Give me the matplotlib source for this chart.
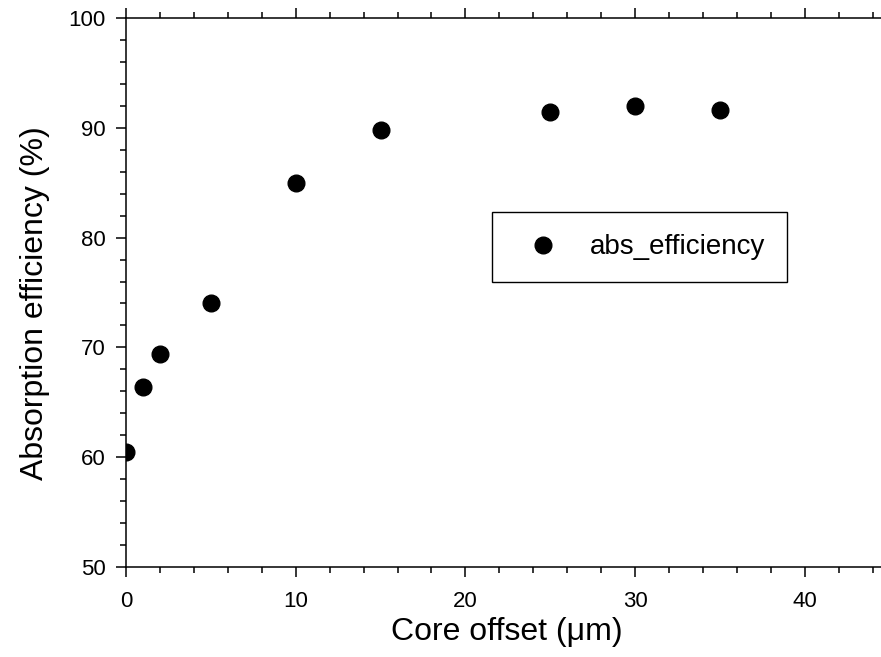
import matplotlib.pyplot as plt
from matplotlib.ticker import MultipleLocator

plt.rcParams['font.family'] = ['Liberation Sans', 'DejaVu Sans']

# data
offset = [0, 1, 2, 5, 10, 15, 25, 30, 35]
efficiency = [60.5, 66.4, 69.4, 74.0, 85.0, 89.8, 91.4, 92.0, 91.6]

fig = plt.figure(figsize=(8.81, 6.57), dpi=100)
# the original plot is cut off at the right edge, so the axes just run to the border
ax = fig.add_axes([126/881, 90/657, 756/881, 549/657])

ax.plot(offset, efficiency, 'o', color='black', markersize=12, label='abs_efficiency')

ax.set_xlim(0, 44.55)
ax.set_ylim(50, 100)
ax.xaxis.set_major_locator(MultipleLocator(10))
ax.xaxis.set_minor_locator(MultipleLocator(2))
ax.yaxis.set_major_locator(MultipleLocator(10))
ax.yaxis.set_minor_locator(MultipleLocator(2))
ax.tick_params(which='both', direction='out', top=True, right=False, width=1.1, labelsize=16)
ax.tick_params(axis='x', pad=10)
ax.tick_params(axis='y', pad=7)
ax.tick_params(which='major', length=7.5)
ax.tick_params(which='minor', length=4.5)
for s in ax.spines.values():
    s.set_linewidth(1.1)
ax.spines['right'].set_visible(False)

ax.set_xlabel('Core offset (μm)', fontsize=23)
ax.set_ylabel('Absorption efficiency (%)', fontsize=23)
ax.xaxis.set_label_coords(0.504, -0.091)
ax.yaxis.set_label_coords(-0.1, 0.481)

leg = ax.legend(loc='upper left', bbox_to_anchor=(492/881, 1 - 212/657), bbox_transform=fig.transFigure,
                fontsize=20, frameon=True, fancybox=False, edgecolor='black', handletextpad=0.62,
                borderpad=0.8, borderaxespad=0, handlelength=2.1, framealpha=1)
leg.get_frame().set_linewidth(1.0)

fig.savefig('out.png', dpi=100)
